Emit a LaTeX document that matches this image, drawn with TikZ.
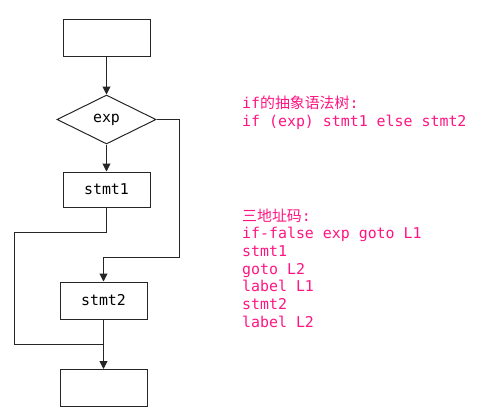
\documentclass[tikz,border=0pt]{standalone}
\usepackage{fontspec}
\setmonofont{DejaVu Sans Mono}
\newfontfamily\cjk{Noto Sans CJK SC}
\usetikzlibrary{shapes.geometric,arrows.meta}
\definecolor{pinktxt}{RGB}{255,20,130}
\tikzset{
  flow/.style={line width=1pt, draw=black!85},
  arr/.style={flow, -{Triangle[length=8pt,width=8pt]}},
  blk/.style={draw=black!85, line width=1pt, minimum width=87pt, minimum height=37pt, inner sep=0pt, font=\ttfamily\fontsize{14.9}{17}\selectfont},
  dia/.style={diamond, draw=black!85, line width=1pt, aspect=2, minimum width=99pt, minimum height=49pt, inner sep=0pt, font=\ttfamily\fontsize{14.9}{17}\selectfont},
  code/.style={anchor=base west, inner sep=0pt, text=pinktxt, font=\ttfamily\fontsize{14.9}{17}\selectfont},
}
\begin{document}
\begin{tikzpicture}[x=1pt,y=-1pt]
\useasboundingbox (0,0) rectangle (490,418);
\node[blk] (top) at (106.5,38) {};
\node[dia] (cond) at (106.5,119.5) {exp};
\node[blk, minimum height=35pt] (s1) at (106.5,189.5) {stmt1};
\node[blk] (s2) at (103.5,300.5) {stmt2};
\node[blk] (bot) at (103.5,388) {};
\coordinate (a1) at (106.5,232);
\coordinate (a2) at (14,232);
\coordinate (a3) at (14,344);
\coordinate (a4) at (103.5,344);
\coordinate (b1) at (179,119.5);
\coordinate (b2) at (179,257);
\coordinate (b3) at (103.5,257);
\draw[arr] (top) -- (cond);
\draw[arr] (cond) -- (s1);
\draw[flow] (s1.south) -- (a1) -- (a2) -- (a3) -- (a4);
\draw[arr] (cond.east) -- (b1) -- (b2) -- (b3) -- (s2.north);
\draw[arr] (s2) -- (bot);
\node[code] (t1) at (242,108) {if{\cjk 的抽象语法树}:};
\node[code] (t2) at (242,126) {if (exp) stmt1 else stmt2};
\node[code] (t3) at (242,221) {{\cjk 三地址码}:};
\node[code] (t4) at (242,238.7) {if-false exp goto L1};
\node[code] (t5) at (242,256.4) {stmt1};
\node[code] (t6) at (242,274.1) {goto L2};
\node[code] (t7) at (242,291.8) {label L1};
\node[code] (t8) at (242,309.5) {stmt2};
\node[code] (t9) at (242,327.2) {label L2};
\end{tikzpicture}
\end{document}
